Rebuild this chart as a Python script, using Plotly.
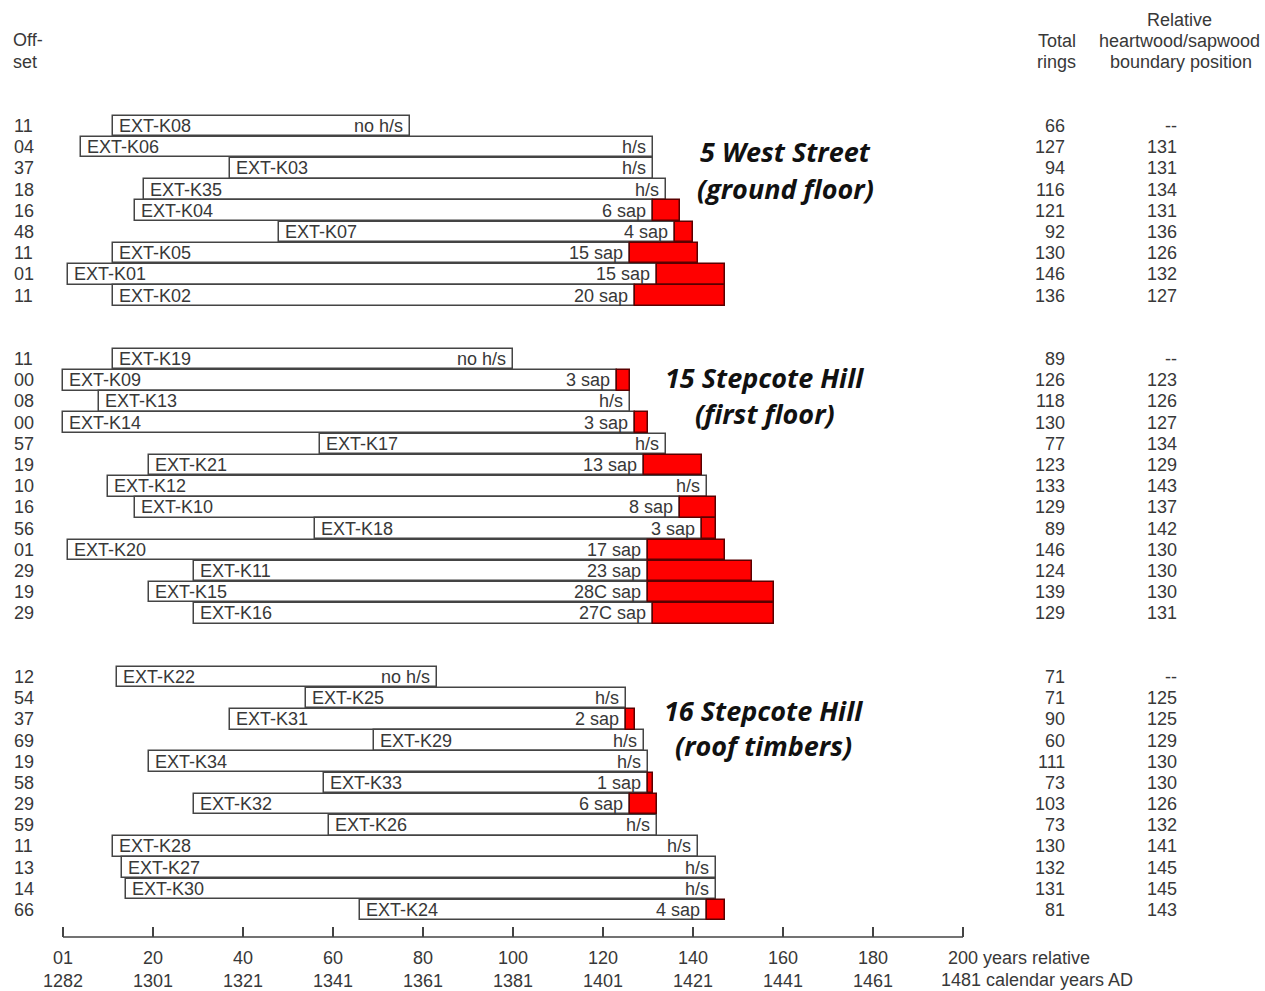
import plotly.graph_objects as go

# ---------------- data ----------------
ids_g1 = ["EXT-K08", "EXT-K06", "EXT-K03", "EXT-K35", "EXT-K04", "EXT-K07", "EXT-K05", "EXT-K01", "EXT-K02"]
off_g1 = [11, 4, 37, 18, 16, 48, 11, 1, 11]
rings_g1 = [66, 127, 94, 116, 121, 92, 130, 146, 136]
hs_g1 = [None, 131, 131, 134, 131, 136, 126, 132, 127]
lab_g1 = ["no h/s", "h/s", "h/s", "h/s", "6 sap", "4 sap", "15 sap", "15 sap", "20 sap"]

ids_g2 = ["EXT-K19", "EXT-K09", "EXT-K13", "EXT-K14", "EXT-K17", "EXT-K21", "EXT-K12", "EXT-K10",
          "EXT-K18", "EXT-K20", "EXT-K11", "EXT-K15", "EXT-K16"]
off_g2 = [11, 0, 8, 0, 57, 19, 10, 16, 56, 1, 29, 19, 29]
rings_g2 = [89, 126, 118, 130, 77, 123, 133, 129, 89, 146, 124, 139, 129]
hs_g2 = [None, 123, 126, 127, 134, 129, 143, 137, 142, 130, 130, 130, 131]
lab_g2 = ["no h/s", "3 sap", "h/s", "3 sap", "h/s", "13 sap", "h/s", "8 sap", "3 sap", "17 sap",
          "23 sap", "28C sap", "27C sap"]

ids_g3 = ["EXT-K22", "EXT-K25", "EXT-K31", "EXT-K29", "EXT-K34", "EXT-K33", "EXT-K32", "EXT-K26",
          "EXT-K28", "EXT-K27", "EXT-K30", "EXT-K24"]
off_g3 = [12, 54, 37, 69, 19, 58, 29, 59, 11, 13, 14, 66]
rings_g3 = [71, 71, 90, 60, 111, 73, 103, 73, 130, 132, 131, 81]
hs_g3 = [None, 125, 125, 129, 130, 130, 126, 132, 141, 145, 145, 143]
lab_g3 = ["no h/s", "h/s", "2 sap", "h/s", "h/s", "1 sap", "6 sap", "h/s", "h/s", "h/s", "h/s", "4 sap"]

group_titles = [("5 West Street", "(ground floor)"),
                ("15 Stepcote Hill", "(first floor)"),
                ("16 Stepcote Hill", "(roof timbers)")]
group_start_rows = [0, 11, 26]

tick_rel = [0, 20, 40, 60, 80, 100, 120, 140, 160, 180, 200]
tick_rel_lab = ["01", "20", "40", "60", "80", "100", "120", "140", "160", "180"]
tick_cal_lab = ["1282", "1301", "1321", "1341", "1361", "1381", "1401", "1421", "1441", "1461"]

# ---------------- layout helpers ----------------
W, H = 1265, 991
PX0, PXY = 63.0, 4.5          # pixel of year 0, pixels per year
ROW0, ROWH = 126.0, 21.19     # pixel of first row centre, row pitch
AXIS_PX = 937
XMIN = (0 - PX0) / PXY
XMAX = (W - PX0) / PXY
YTOP = (0 - ROW0) / ROWH
YBOT = (H - ROW0) / ROWH
TXT = "#383838"
LINE = "#444444"
FONT = "Liberation Sans, Arial, sans-serif"
FS = 18

groups = [(ids_g1, off_g1, rings_g1, hs_g1, lab_g1),
          (ids_g2, off_g2, rings_g2, hs_g2, lab_g2),
          (ids_g3, off_g3, rings_g3, hs_g3, lab_g3)]

rows, ids, offs, ends, hss, labs, rings_all = [], [], [], [], [], [], []
for gi, g_start in zip(groups, group_start_rows):
    g_ids, g_off, g_rings, g_hs, g_lab = gi
    for k in range(len(g_ids)):
        rows.append(g_start + k)
        ids.append(g_ids[k])
        offs.append(g_off[k])
        rings_all.append(g_rings[k])
        ends.append(g_off[k] + g_rings[k])
        hss.append(g_hs[k])
        labs.append(g_lab[k])

white_len = [(h if h is not None else e) - o for o, e, h in zip(offs, ends, hss)]
red_rows = [r for r, e, h in zip(rows, ends, hss) if h is not None and e > h]
red_base = [h for e, h in zip(ends, hss) if h is not None and e > h]
red_len = [e - h for e, h in zip(ends, hss) if h is not None and e > h]

fig = go.Figure()
fig.add_trace(go.Bar(orientation="h", y=rows, x=white_len, base=offs, width=0.97,
                     marker=dict(color="white", line=dict(color=LINE, width=1.5)),
                     hoverinfo="skip", showlegend=False))
fig.add_trace(go.Bar(orientation="h", y=red_rows, x=red_len, base=red_base, width=0.97,
                     marker=dict(color="#ff0000", line=dict(color="#5a0000", width=1.5)),
                     hoverinfo="skip", showlegend=False))

ann = []
def add(text, x, y, xref="x", yref="y", xanchor="center", yanchor="middle", xshift=0, size=FS,
        color=TXT, family=FONT, align="center"):
    ann.append(dict(text=text, x=x, y=y, xref=xref, yref=yref, xanchor=xanchor, yanchor=yanchor,
                    xshift=xshift, showarrow=False, align=align,
                    font=dict(size=size, color=color, family=family)))

for r, i_, o, e, h, lab, rg in zip(rows, ids, offs, ends, hss, labs, rings_all):
    add(i_, o, r, xanchor="left", xshift=4)
    add(lab, h if h is not None else e, r, xanchor="right", xshift=-5)
    add("%02d" % o, 12 / W, r, xref="paper", xanchor="left")
    add(str(rg), 1067 / W, r, xref="paper", xanchor="right")
    add(str(h) if h is not None else "--", 1179 / W, r, xref="paper", xanchor="right")

# headers
def ypx(p):
    return 1 - p / H
add("Off-", 11 / W, ypx(40), xref="paper", yref="paper", xanchor="left")
add("set", 11 / W, ypx(62), xref="paper", yref="paper", xanchor="left")
add("Total", 1057 / W, ypx(41), xref="paper", yref="paper")
add("rings", 1056 / W, ypx(62), xref="paper", yref="paper")
add("Relative", 1179 / W, ypx(20), xref="paper", yref="paper")
add("heartwood/sapwood", 1179 / W, ypx(41), xref="paper", yref="paper")
add("boundary position", 1181 / W, ypx(62), xref="paper", yref="paper")

# site titles
site_pos = [(785, 152, 188), (765, 377, 413), (763, 710, 745)]
for (t1, t2), (cx, y1, y2) in zip(group_titles, site_pos):
    for t, yy in ((t1, y1), (t2, y2)):
        add("<b><i>%s</i></b>" % t, cx / W, ypx(yy), xref="paper", yref="paper", size=27,
            color="#111111", family="Open Sans, Lato, sans-serif")

# last axis label
add("200 years relative", 946 / W, ypx(958), xref="paper", yref="paper", xanchor="left")
add("1481 calendar years AD", 939 / W, ypx(980), xref="paper", yref="paper", xanchor="left")

fig.update_layout(
    width=W, height=H, margin=dict(l=0, r=0, t=0, b=0),
    paper_bgcolor="white", plot_bgcolor="white",
    barmode="overlay", bargap=0,
    xaxis=dict(range=[XMIN, XMAX], domain=[0, 1], anchor="free", position=ypx(AXIS_PX),
               side="bottom", showline=False, showgrid=False, zeroline=False,
               ticks="inside", ticklen=10, tickwidth=1.5, tickcolor=LINE,
               tickvals=tick_rel,
               ticktext=[a + "<br>" + b for a, b in zip(tick_rel_lab, tick_cal_lab)] + [""],
               tickfont=dict(size=FS, color=TXT, family=FONT), ticklabelstandoff=8,
               fixedrange=True),
    yaxis=dict(range=[YBOT, YTOP], domain=[0, 1], visible=False, fixedrange=True),
    shapes=[dict(type="line", xref="x", yref="paper", x0=tick_rel[0], x1=tick_rel[-1],
                 y0=ypx(AXIS_PX), y1=ypx(AXIS_PX), line=dict(color=LINE, width=1.5))],
    annotations=ann,
)

fig.write_html("out.html")
